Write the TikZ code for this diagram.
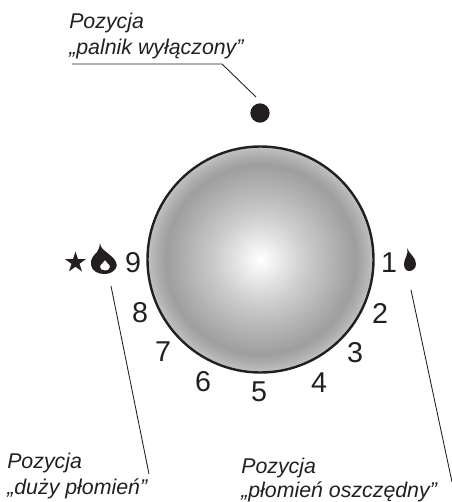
\documentclass[tikz,border=0pt]{standalone}
\usepackage{fontspec}
\setmainfont{Liberation Sans}
\usetikzlibrary{shapes.geometric}
\definecolor{ink}{HTML}{231F20}
\pgfdeclareradialshading{knobshade}{\pgfpoint{0bp}{0bp}}{
  color(0bp)=(white);
  color(3bp)=(white!94!black);
  color(10bp)=(white!80!black);
  color(16bp)=(white!70!black);
  color(21bp)=(white!62!black);
  color(23bp)=(white!68!black);
  color(25bp)=(white!76!black);
  color(50bp)=(white!76!black)}
\tikzset{
  x=0.75pt,y=-0.75pt,
  numlabel/.style={font=\fontsize{21.5}{24}\selectfont,text=ink,inner sep=0pt,anchor=center},
  caption/.style={font=\fontsize{16}{19.5}\selectfont\itshape,text=ink,inner sep=0pt,align=left,anchor=north west},
  leader/.style={draw=ink,line width=0.65pt},
}
\begin{document}
\begin{tikzpicture}
\useasboundingbox (0,0) rectangle (452,502);
% knob
\shade[shading=knobshade] (260.5,259.5) circle (113);
\draw[ink,line width=1.8pt] (260.5,259.5) circle (113);
\node[circle,fill=ink,minimum size=14.5pt,inner sep=0pt] (dot) at (260,113) {};
% numbers
\node[numlabel] (n9) at (133,263) {9};
\node[numlabel] (n8) at (140,313) {8};
\node[numlabel] (n7) at (163,352) {7};
\node[numlabel] (n6) at (203,382) {6};
\node[numlabel] (n5) at (259,392) {5};
\node[numlabel] (n4) at (319,383) {4};
\node[numlabel] (n3) at (355,353) {3};
\node[numlabel] (n2) at (380,313) {2};
\node[numlabel] (n1) at (389,263) {1};
% star
\node[star,star points=5,star point ratio=2.6,fill=ink,minimum size=16.5pt,inner sep=0pt] (st) at (75.5,262.5) {};
% big flame
\fill[ink,even odd rule] (100,243) .. controls (100,249) and (106,251) .. (111,256) .. controls (116,260) and (118,265) .. (116,268) .. controls (113,273) and (108,274) .. (104,274) .. controls (98,274) and (92,271) .. (91,265) .. controls (90,259) and (94,255) .. (97,252) .. controls (99,249) and (100,246) .. (100,243) -- cycle
 (105,260) .. controls (106,263) and (110,264) .. (110,267) .. controls (110,270) and (107,270.5) .. (105,270.5) .. controls (102,270.5) and (100,269) .. (100,267) .. controls (100,264) and (104,263) .. (105,260) -- cycle;
% small flame
\fill[ink] (407,248) .. controls (409,254) and (416,257) .. (416,264) .. controls (416,269) and (412,271) .. (409,271) .. controls (406,271) and (404,268) .. (404,264) .. controls (404,258) and (409,255) .. (407,248) -- cycle;
% captions
\node[caption] (t1) at (69,13) {Pozycja\\„palnik wyłączony”};
\node[caption] (t2) at (7,453) {Pozycja\\„duży płomień”};
\node[caption,font=\fontsize{16}{18}\selectfont\itshape] (t3) at (241,458) {Pozycja\\„płomień oszczędny”};
% leaders
\coordinate (a1) at (72,64);
\coordinate (a2) at (222,64);
\coordinate (a3) at (256,97);
\coordinate (b1) at (111,286);
\coordinate (b2) at (149,474);
\coordinate (c1) at (411,290);
\coordinate (c2) at (452,482);
\draw[leader] (a1) -- (a2) -- (a3);
\draw[leader] (b1) -- (b2);
\draw[leader] (c1) -- (c2);
\end{tikzpicture}
\end{document}
